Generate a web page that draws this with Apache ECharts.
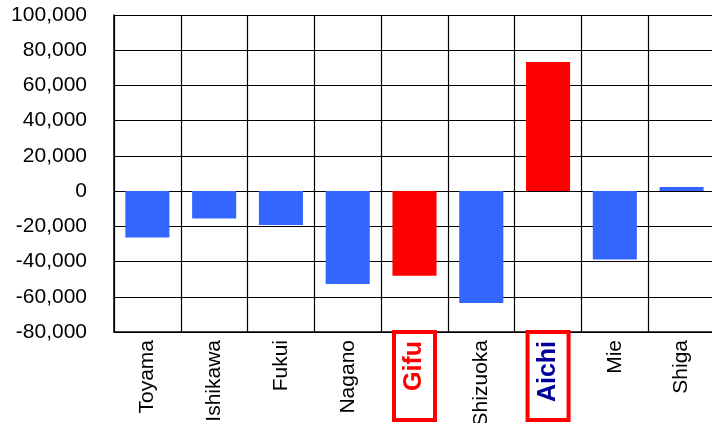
<!DOCTYPE html>
<html>
<head>
<meta charset="utf-8">
<script src="https://cdn.jsdelivr.net/npm/echarts@6/dist/echarts.min.js"></script>
<style>html,body{margin:0;padding:0;background:#fff;}#c{width:712px;height:423px;}</style>
</head>
<body>
<div id="c"></div>
<script>
var categories = ['Toyama','Ishikawa','Fukui','Nagano','Gifu','Shizuoka','Aichi','Mie','Shiga'];
var values = [-26300,-15500,-19300,-52700,-48100,-63600,73300,-38800,2300];
var highlighted = ['Gifu','Aichi'];
var highlightLabelColors = {Gifu:'#ff0000', Aichi:'#000099'};
var yMin = -80000, yMax = 100000, yStep = 20000;

var chart = echarts.init(document.getElementById('c'), null, {renderer:'canvas'});
var font = '"Liberation Sans", Arial, sans-serif';
var data = values.map(function(v,i){
  var hl = highlighted.indexOf(categories[i]) >= 0;
  return {value:v, itemStyle:{color: hl ? '#ff0000' : '#3366ff'}};
});
var boxStyle = function(color){
  return {fontSize:25, fontWeight:'bold', color:color, fontFamily:font,
    backgroundColor:'#fff', borderColor:'#ff0000', borderWidth:4,
    width:75, align:'right', padding:[6,7,6,2], lineHeight:31};
};
chart.setOption({
  animation:false,
  backgroundColor:'#fff',
  grid:{left:114, top:15, right:-3, bottom:91, containLabel:false, outerBoundsMode:'none'},
  xAxis:{
    type:'category', data:categories, boundaryGap:true,
    axisLine:{show:true, onZero:false, lineStyle:{color:'#000', width:1.5}},
    axisTick:{show:false},
    splitLine:{show:true, lineStyle:{color:'#000', width:1.2}},
    axisLabel:{
      rotate:90, margin:2, interval:0, fontFamily:font,
      formatter:function(v){
        if (v === 'Gifu') return '{g|' + v + '}';
        if (v === 'Aichi') return '{a|' + v + '}';
        return '{n|' + v + '}';
      },
      rich:{
        n:{fontSize:21, color:'#000', fontFamily:font, padding:[0,6,0,0]},
        g:boxStyle(highlightLabelColors.Gifu),
        a:boxStyle(highlightLabelColors.Aichi)
      }
    }
  },
  yAxis:{
    type:'value', min:yMin, max:yMax, interval:yStep,
    axisLine:{show:true, lineStyle:{color:'#000', width:1.5}},
    axisTick:{show:false},
    splitLine:{show:true, lineStyle:{color:'#000', width:1.2}},
    axisLabel:{fontSize:21, color:'#000', fontFamily:font, margin:27,
      formatter:function(v){ return v.toLocaleString('en-US'); }}
  },
  series:[{
    type:'bar', data:data, barWidth:'66%',
    itemStyle:{borderWidth:0}
  }]
});
</script>
</body>
</html>
